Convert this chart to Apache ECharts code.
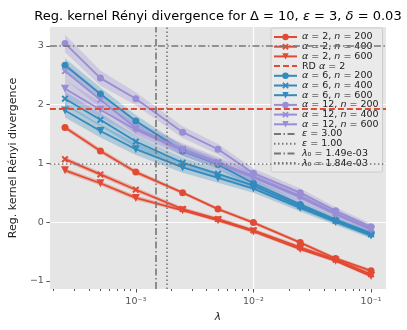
<!DOCTYPE html>
<html>
<head>
<meta charset="UTF-8">
<title>Reg. kernel Renyi divergence</title>
<script src="https://cdn.jsdelivr.net/npm/echarts@6/dist/echarts.min.js"></script>
</head>
<body style="margin:0">
<div id="chart" style="width:407px;height:330px;"></div>
<script>
// regularisation values on the x axis
var lambdas = [2.5e-4, 5e-4, 1e-3, 2.5e-3, 5e-3, 1e-2, 2.5e-2, 5e-2, 1e-1];

// alpha = 2
var a2n200 = [1.61, 1.21, 0.85, 0.50, 0.22, -0.01, -0.35, -0.62, -0.83];
var a2n400 = [1.07, 0.81, 0.55, 0.22, 0.05, -0.14, -0.43, -0.64, -0.89];
var a2n600 = [0.88, 0.66, 0.41, 0.20, 0.03, -0.16, -0.46, -0.66, -0.92];
// alpha = 6
var a6n200 = [2.67, 2.18, 1.72, 1.21, 0.98, 0.66, 0.30, 0.04, -0.19];
var a6n400 = [2.10, 1.74, 1.37, 1.01, 0.82, 0.62, 0.27, 0.02, -0.21];
var a6n600 = [1.90, 1.55, 1.24, 0.93, 0.75, 0.57, 0.24, 0.00, -0.23];
// alpha = 12
var a12n200 = [3.04, 2.45, 2.10, 1.53, 1.24, 0.83, 0.50, 0.19, -0.08];
var a12n400 = [2.57, 2.08, 1.60, 1.24, 1.02, 0.78, 0.44, 0.15, -0.11];
var a12n600 = [2.27, 1.91, 1.57, 1.22, 0.99, 0.76, 0.42, 0.13, -0.13];

// half width of the shaded bands
var spreadA2 = [0.04, 0.04, 0.04, 0.03, 0.03, 0.03, 0.03, 0.03, 0.03];
var spreadA6 = [0.12, 0.11, 0.10, 0.09, 0.08, 0.07, 0.06, 0.05, 0.05];
var spreadA12 = [0.15, 0.13, 0.11, 0.10, 0.09, 0.08, 0.07, 0.06, 0.05];

var rdAlpha2 = 1.93;
var epsValues = [3.00, 1.00];
var lambda0 = [1.49e-3, 1.84e-3];

var xMajorTicks = [1e-3, 1e-2, 1e-1];
var xMinorTicks = [2e-4, 3e-4, 4e-4, 5e-4, 6e-4, 7e-4, 8e-4, 9e-4,
                   2e-3, 3e-3, 4e-3, 5e-3, 6e-3, 7e-3, 8e-3, 9e-3,
                   2e-2, 3e-2, 4e-2, 5e-2, 6e-2, 7e-2, 8e-2, 9e-2];
var yTicks = [-1, 0, 1, 2, 3];

var xMin = 1.86e-4, xMax = 0.134;
var yMin = -1.14, yMax = 3.32;

var RED = '#E24A33', BLUE = '#348ABD', PURPLE = '#988ED5', GREY = '#777777';
var XMARK = 'path://M2,0 L5,3 L8,0 L10,2 L7,5 L10,8 L8,10 L5,7 L2,10 L0,8 L3,5 L0,2 Z';
var TRI_DOWN = 'path://M0,0 L10,0 L5,9 Z';
var DASHDOT = [7, 2.5, 1.5, 2.5];
var DOTTED = [1.5, 2.5];

var chart = echarts.init(document.getElementById('chart'), null, { renderer: 'canvas' });

function band(data, spread, color) {
    var lo = data.map(function (v, i) { return v - spread[i]; });
    var hi = data.map(function (v, i) { return v + spread[i]; });
    return {
        type: 'custom', silent: true, clip: true,
        data: lambdas.map(function (x, i) { return [x, lo[i], hi[i]]; }),
        encode: { x: 0, y: [1, 2] },
        renderItem: function (params, api) {
            if (params.dataIndex !== 0) return;
            var pts = [];
            for (var i = 0; i < lambdas.length; i++) pts.push(api.coord([lambdas[i], hi[i]]));
            for (var j = lambdas.length - 1; j >= 0; j--) pts.push(api.coord([lambdas[j], lo[j]]));
            return { type: 'polygon', shape: { points: pts }, style: { fill: color, opacity: 0.3 } };
        }
    };
}

function line(name, data, color, symbol, size) {
    return {
        name: name, type: 'line',
        data: lambdas.map(function (x, i) { return [x, data[i]]; }),
        symbol: symbol, symbolSize: size, showAllSymbol: true,
        lineStyle: { color: color, width: 1.8 },
        itemStyle: { color: color },
        z: 3
    };
}

function refLine(name, color, type, width, mark) {
    return {
        name: name, type: 'line', data: [], symbol: 'none',
        lineStyle: { color: color, type: type, width: width },
        itemStyle: { color: color },
        markLine: {
            silent: true, symbol: ['none', 'none'], label: { show: false },
            lineStyle: { color: color, type: type, width: width },
            data: [mark]
        },
        z: 2
    };
}

var groups = [
    { alpha: 2, color: RED, spread: spreadA2, sets: [[200, a2n200], [400, a2n400], [600, a2n600]] },
    { alpha: 6, color: BLUE, spread: spreadA6, sets: [[200, a6n200], [400, a6n400], [600, a6n600]] },
    { alpha: 12, color: PURPLE, spread: spreadA12, sets: [[200, a12n200], [400, a12n400], [600, a12n600]] }
];
var markers = [['circle', 7], [XMARK, 7], [TRI_DOWN, 8]];
var noMarker = { color: 'rgba(0,0,0,0)', borderWidth: 0 };

var series = [];
var legendData = [];
groups.forEach(function (g) {
    g.sets.forEach(function (s, k) {
        var name = 'α = ' + g.alpha + ', n = ' + s[0];
        series.push(band(s[1], g.spread, g.color));
        series.push(line(name, s[1], g.color, markers[k][0], markers[k][1]));
        legendData.push({ name: name });
    });
    if (g.alpha === 2) {
        series.push(refLine('RD α = 2', RED, [6, 3], 2, { yAxis: rdAlpha2 }));
        legendData.push({ name: 'RD α = 2', itemStyle: noMarker });
    }
});
series.push(refLine('ε = 3.00', GREY, DASHDOT, 1.6, { yAxis: epsValues[0] }));
series.push(refLine('ε = 1.00', GREY, DOTTED, 1.6, { yAxis: epsValues[1] }));
series.push(refLine('λ0 = 1.49e-03', GREY, DASHDOT, 1.6,
    [{ coord: [lambda0[0], yMin] }, { coord: [lambda0[0], yMax] }]));
series.push(refLine('λ0 = 1.84e-03', GREY, DOTTED, 1.6,
    [{ coord: [lambda0[1], yMin] }, { coord: [lambda0[1], yMax] }]));
['ε = 3.00', 'ε = 1.00', 'λ0 = 1.49e-03', 'λ0 = 1.84e-03'].forEach(function (n) {
    legendData.push({ name: n, itemStyle: noMarker });
});

function mathLabel(name) {
    return name.replace(/α/g, '{i|α}').replace(/ n =/g, ' {i|n} =')
        .replace(/ε/g, '{i|ε}').replace(/λ0/g, '{i|λ}₀');
}

var FONT = 'DejaVu Sans';

chart.setOption({
    animation: false,
    backgroundColor: '#ffffff',
    textStyle: { fontFamily: FONT },
    title: {
        text: 'Reg. kernel Rényi divergence for Δ = 10, {i|ε} = 3, {i|δ} = 0.03',
        left: 213, top: 5, textAlign: 'center',
        textStyle: {
            fontFamily: FONT, fontSize: 13, fontWeight: 'normal', color: '#000',
            rich: { i: { fontFamily: FONT, fontSize: 13, fontStyle: 'italic', color: '#000' } }
        }
    },
    grid: { left: 44, right: 21, top: 27, bottom: 41, backgroundColor: '#E5E5E5', show: true, borderWidth: 0 },
    legend: {
        data: legendData, orient: 'vertical', left: 271, top: 28,
        itemWidth: 23, itemHeight: 8, itemGap: -0.3, padding: [4, 4, 4, 2],
        backgroundColor: 'rgba(235,235,235,0.85)', borderColor: '#cccccc', borderWidth: 1, borderRadius: 2,
        formatter: mathLabel,
        textStyle: {
            fontFamily: FONT, fontSize: 9.5, color: '#222',
            rich: { i: { fontFamily: FONT, fontSize: 9.5, fontStyle: 'italic', color: '#222' } }
        }
    },
    xAxis: [{
        type: 'log', min: xMin, max: xMax,
        name: 'λ', nameLocation: 'middle', nameGap: 22,
        nameTextStyle: { fontFamily: FONT, fontSize: 10.5, fontStyle: 'italic', color: '#222' },
        axisLine: { show: false, onZero: false },
        axisTick: { show: true, customValues: xMajorTicks, length: 3.5, lineStyle: { color: '#555' } },
        axisLabel: {
            customValues: xMajorTicks, fontSize: 9.5, color: '#555', margin: 8,
            formatter: function (v) {
                var e = Math.round(Math.log10(v));
                var sup = { '-': '⁻', '0': '⁰', '1': '¹', '2': '²', '3': '³', '4': '⁴' };
                return '10' + String(e).split('').map(function (c) { return sup[c]; }).join('');
            }
        },
        splitLine: { show: true, showMinLine: false, showMaxLine: false, lineStyle: { color: '#ffffff', width: 1.2 } }
    }, {
        type: 'log', min: xMin, max: xMax, position: 'bottom',
        axisLine: { show: false, onZero: false },
        axisTick: { show: true, customValues: xMinorTicks, length: 2, lineStyle: { color: '#555' } },
        axisLabel: { show: false },
        splitLine: { show: false }
    }],
    yAxis: {
        type: 'value', min: yMin, max: yMax,
        name: 'Reg. kernel Rényi divergence', nameLocation: 'middle', nameGap: 26,
        nameTextStyle: { fontFamily: FONT, fontSize: 11, color: '#222' },
        axisLine: { show: false },
        axisTick: { show: true, customValues: yTicks, length: 3.5, lineStyle: { color: '#555' } },
        axisLabel: {
            customValues: yTicks, fontSize: 9.5, color: '#555', margin: 6,
            formatter: function (v) { return v < 0 ? '−' + (-v) : String(v); }
        },
        splitLine: { show: true, showMinLine: false, showMaxLine: false, lineStyle: { color: '#ffffff', width: 1.2 } }
    },
    series: series
});
</script>
</body>
</html>
